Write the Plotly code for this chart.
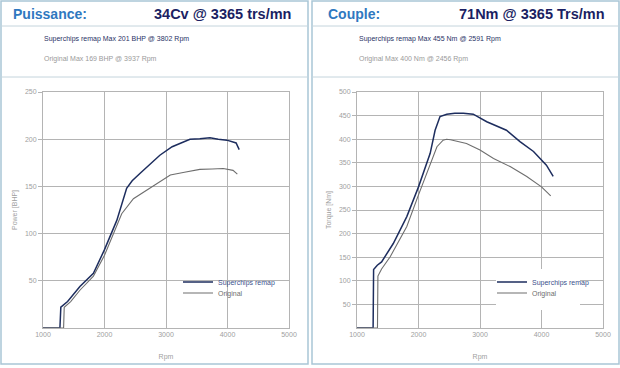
import plotly.graph_objects as go

W, H = 620, 368

# ---------------- data ----------------
power_remap_rpm = [1000, 1275, 1290, 1400, 1600, 1820, 2000, 2200, 2360, 2450, 2580, 2740, 2900, 3100, 3390, 3550, 3715, 3850, 3990, 4140, 4190]
power_remap_bhp = [0, 0, 22, 28, 44, 58, 83, 114, 148, 156, 164, 174, 183, 192, 200, 200.5, 201.5, 200, 199, 196, 189]

power_orig_rpm = [1000, 1335, 1345, 1450, 1600, 1820, 2000, 2150, 2280, 2470, 2690, 2900, 3070, 3300, 3550, 3750, 3930, 4090, 4160]
power_orig_bhp = [0, 0, 22, 28, 40, 55, 77, 100, 121, 137, 146, 155, 162, 165, 168, 168.5, 169, 167, 163]

torque_remap_rpm = [1000, 1262, 1270, 1330, 1400, 1590, 1810, 2000, 2190, 2270, 2350, 2460, 2590, 2730, 2890, 3110, 3430, 3650, 3870, 4080, 4190]
torque_remap_nm = [0, 0, 124, 133, 140, 179, 236, 299, 370, 419, 448, 453, 455, 455, 453, 437, 419, 395, 374, 345, 321]

torque_orig_rpm = [1000, 1333, 1340, 1400, 1540, 1810, 2000, 2190, 2300, 2400, 2456, 2520, 2780, 3000, 3220, 3490, 3760, 4000, 4150]
torque_orig_nm = [0, 0, 110, 125, 151, 215, 282, 349, 384, 398, 400, 399, 391, 377, 359, 342, 321, 299, 280]

rpm_ticks = [1000, 2000, 3000, 4000, 5000]
power_ticks = [50, 100, 150, 200, 250]
torque_ticks = [50, 100, 150, 200, 250, 300, 350, 400, 450, 500]

series_names = ["Superchips remap", "Original"]

# ---------------- styling ----------------
REMAP_C = "#1d2d5e"
ORIG_C = "#6e6e6e"
GRID_C = "#b4b4b4"
TICK_C = "#a0a0a0"
BORDER_C = "#a9c6d6"
SEP_C = "#c4d4dc"
NARROW = "Liberation Sans, Arial, sans-serif"
BOLD = "Liberation Sans, Arial, sans-serif"

def px_x(v):
    return v / W

def px_y(v):
    return (H - v) / H

fig = go.Figure()

fig.add_trace(go.Scatter(x=power_remap_rpm, y=power_remap_bhp, mode="lines", name=series_names[0],
                         line=dict(color=REMAP_C, width=1.5), xaxis="x", yaxis="y", legend="legend"))
fig.add_trace(go.Scatter(x=power_orig_rpm, y=power_orig_bhp, mode="lines", name=series_names[1],
                         line=dict(color=ORIG_C, width=1.1), xaxis="x", yaxis="y", legend="legend2"))
fig.add_trace(go.Scatter(x=torque_remap_rpm, y=torque_remap_nm, mode="lines", name=series_names[0],
                         line=dict(color=REMAP_C, width=1.5), xaxis="x2", yaxis="y2", legend="legend3"))
fig.add_trace(go.Scatter(x=torque_orig_rpm, y=torque_orig_nm, mode="lines", name=series_names[1],
                         line=dict(color=ORIG_C, width=1.1), xaxis="x2", yaxis="y2", legend="legend4"))

common_x = dict(range=[1000, 5000], tickvals=rpm_ticks, showgrid=True, gridcolor=GRID_C, gridwidth=1,
                showline=True, linecolor=GRID_C, mirror=True, zeroline=False, ticks="", automargin=False,
                tickfont=dict(family=NARROW, size=7, color=TICK_C),
                title=dict(text="Rpm", font=dict(family=NARROW, size=7, color=TICK_C), standoff=16))
common_y = dict(showgrid=True, gridcolor=GRID_C, gridwidth=1, showline=True, linecolor=GRID_C, mirror=True,
                zeroline=False, ticks="outside", ticklen=4, tickcolor=GRID_C, automargin=False,
                tickfont=dict(family=NARROW, size=7, color=TICK_C))

ydom = [px_y(328), px_y(92)]
fig.update_layout(
    xaxis=dict(domain=[px_x(43), px_x(289)], anchor="y", **common_x),
    yaxis=dict(domain=ydom, anchor="x", range=[0, 250], tickvals=power_ticks,
               title=dict(text="Power [BHP]", font=dict(family=NARROW, size=7, color=TICK_C), standoff=6),
               **common_y),
    xaxis2=dict(domain=[px_x(357), px_x(603)], anchor="y2", **common_x),
    yaxis2=dict(domain=ydom, anchor="x2", range=[0, 500], tickvals=torque_ticks,
                title=dict(text="Torque [Nm]", font=dict(family=NARROW, size=7, color=TICK_C), standoff=6),
                **common_y),
)

def leg(xp, yp, color):
    return dict(x=px_x(xp), y=px_y(yp), xanchor="left", yanchor="middle", xref="paper", yref="paper",
                bgcolor="rgba(0,0,0,0)", borderwidth=0, font=dict(family=NARROW, size=7, color=color),
                itemwidth=30, tracegroupgap=0, visible=True)

fig.update_layout(
    showlegend=True,
    legend=leg(178, 282, "#3b4f8c"),
    legend2=leg(178, 293, ORIG_C),
    legend3=leg(492, 282, "#3b4f8c"),
    legend4=leg(492, 293, ORIG_C),
)

shapes = []
for x0, x1 in [(1, 308), (312, 619)]:
    shapes.append(dict(type="rect", xref="paper", yref="paper", x0=px_x(x0), x1=px_x(x1), y0=px_y(364), y1=px_y(1),
                       line=dict(color=BORDER_C, width=1.5), layer="below"))
    for yy in (26, 77):
        shapes.append(dict(type="line", xref="paper", yref="paper", x0=px_x(x0), x1=px_x(x1), y0=px_y(yy), y1=px_y(yy),
                           line=dict(color=SEP_C, width=1)))
# white backdrop behind the torque legend (hides the grid there, as in the original)
shapes.append(dict(type="rect", xref="paper", yref="paper", x0=px_x(496), x1=px_x(580), y0=px_y(310), y1=px_y(269),
                   line=dict(width=0), fillcolor="white", layer="above"))

annots = []
def txt(x, y, s, size, color, family, anchor="left"):
    annots.append(dict(x=px_x(x), y=px_y(y), xref="paper", yref="paper", text=s, showarrow=False,
                       xanchor=anchor, yanchor="middle", font=dict(family=family, size=size, color=color)))

txt(11, 14, "<b>Puissance:</b>", 14, "#2f78c0", BOLD)
txt(293, 14, "<b>34Cv @ 3365 trs/mn</b>", 14.5, "#1b1f63", BOLD, "right")
txt(42, 39, "Superchips remap Max 201 BHP @ 3802 Rpm", 7, "#2a3266", NARROW)
txt(42, 59, "Original Max 169 BHP @ 3937 Rpm", 7, "#9a9a9a", NARROW)
txt(326, 14, "<b>Couple:</b>", 14, "#2f78c0", BOLD)
txt(607, 14, "<b>71Nm @ 3365 Trs/mn</b>", 14.5, "#1b1f63", BOLD, "right")
txt(357, 39, "Superchips remap Max 455 Nm @ 2591 Rpm", 7, "#2a3266", NARROW)
txt(357, 59, "Original Max 400 Nm @ 2456 Rpm", 7, "#9a9a9a", NARROW)

fig.update_layout(
    template="none",
    width=W, height=H, margin=dict(l=0, r=0, t=0, b=0, autoexpand=False),
    paper_bgcolor="white", plot_bgcolor="white",
    shapes=shapes, annotations=annots,
)

fig.write_html("out.html", config={"displayModeBar": False},
               post_script="document.body.style.margin='0';document.body.style.padding='0';")
